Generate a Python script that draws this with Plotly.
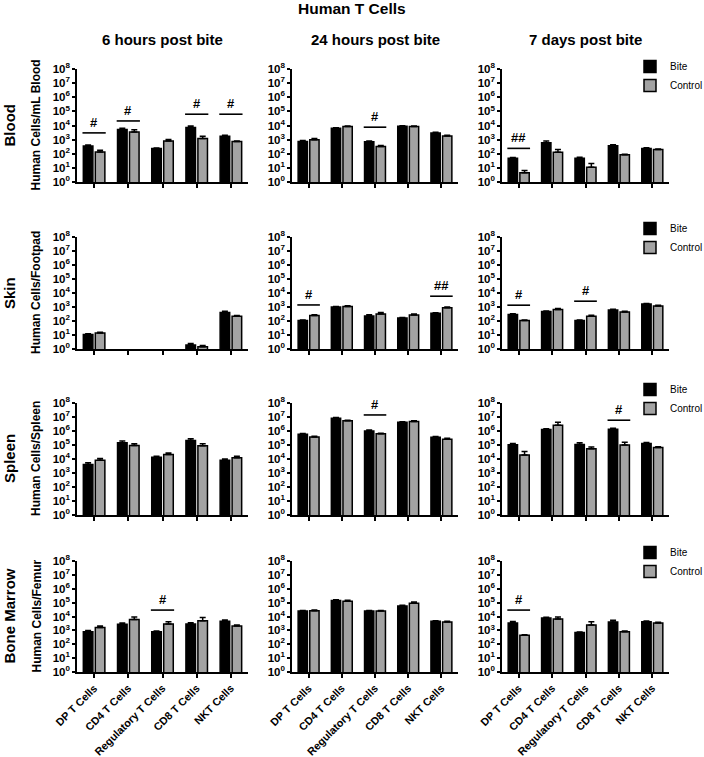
import math
import plotly.graph_objects as go
from plotly.subplots import make_subplots

categories = ["DP T Cells", "CD4 T Cells", "Regulatory T Cells", "CD8 T Cells", "NKT Cells"]
timepoints = ["6 hours post bite", "24 hours post bite", "7 days post bite"]
tissues = ["Blood", "Skin", "Spleen", "Bone Marrow"]
y_titles = ["Human Cells/mL Blood", "Human Cells/Footpad", "Human Cells/Spleen", "Human Cells/Femur"]
tick_vals = [1, 10, 100, 1e3, 1e4, 1e5, 1e6, 1e7, 1e8]
tick_text = ["10<sup>%d</sup>" % i for i in range(9)]

# ---- Blood ----
blood_6h_bite = [360, 5200, 234, 7200, 1750]
blood_6h_bite_err = [60, 1100, 20, 1900, 250]
blood_6h_ctrl = [135, 3500, 810, 1200, 730]
blood_6h_ctrl_err = [40, 1600, 200, 550, 80]
blood_24h_bite = [750, 6400, 710, 9000, 2950]
blood_24h_bite_err = [100, 500, 80, 600, 400]
blood_24h_ctrl = [1000, 8500, 325, 8500, 1800]
blood_24h_ctrl_err = [200, 900, 60, 700, 250]
blood_7d_bite = [49, 600, 49, 370, 240]
blood_7d_bite_err = [6, 200, 8, 60, 30]
blood_7d_ctrl = [4.6, 130, 11, 84, 200]
blood_7d_ctrl_err = [1.8, 70, 9, 10, 20]
# ---- Skin ----
skin_6h_bite = [11, None, None, 1.9, 410]
skin_6h_bite_err = [1.5, 0, 0, 0.6, 80]
skin_6h_ctrl = [14, None, None, 1.45, 215]
skin_6h_ctrl_err = [2, 0, 0, 0.3, 30]
skin_24h_bite = [107, 1000, 230, 165, 360]
skin_24h_bite_err = [10, 100, 50, 15, 30]
skin_24h_ctrl = [245, 1070, 320, 270, 870]
skin_24h_ctrl_err = [40, 150, 80, 50, 120]
skin_7d_bite = [290, 470, 107, 620, 1660]
skin_7d_bite_err = [40, 50, 10, 60, 150]
skin_7d_ctrl = [107, 660, 220, 445, 1200]
skin_7d_ctrl_err = [10, 120, 40, 50, 120]
# ---- Spleen ----
spleen_6h_bite = [4100, 142000, 13600, 210000, 8300]
spleen_6h_bite_err = [1200, 50000, 2000, 75000, 1500]
spleen_6h_ctrl = [8300, 92000, 21000, 87000, 12300]
spleen_6h_ctrl_err = [2700, 30000, 6000, 35000, 3500]
spleen_24h_bite = [590000, 8.1e6, 1.02e6, 4.2e6, 360000]
spleen_24h_bite_err = [80000, 1e6, 150000, 400000, 50000]
spleen_24h_ctrl = [380000, 5.3e6, 630000, 4.7e6, 260000]
spleen_24h_ctrl_err = [50000, 500000, 70000, 600000, 40000]
spleen_7d_bite = [103000, 1.26e6, 110000, 1.34e6, 128000]
spleen_7d_bite_err = [25000, 200000, 35000, 250000, 25000]
spleen_7d_ctrl = [19000, 2.6e6, 53000, 98000, 66000]
spleen_7d_ctrl_err = [16000, 1.7e6, 18000, 60000, 10000]
# ---- Bone marrow ----
bm_6h_bite = [810, 2750, 810, 2900, 4500]
bm_6h_bite_err = [150, 700, 100, 600, 1200]
bm_6h_ctrl = [1580, 6200, 2900, 5000, 2100]
bm_6h_ctrl_err = [500, 3000, 1200, 3500, 300]
bm_24h_bite = [24500, 144000, 24500, 56000, 4500]
bm_24h_bite_err = [3000, 15000, 3000, 8000, 500]
bm_24h_ctrl = [26000, 128000, 24500, 92000, 4000]
bm_24h_ctrl_err = [3000, 20000, 3000, 20000, 500]
bm_7d_bite = [3400, 7800, 690, 4000, 4250]
bm_7d_bite_err = [1000, 900, 80, 1300, 500]
bm_7d_ctrl = [450, 6600, 2450, 810, 3400]
bm_7d_ctrl_err = [40, 2500, 1800, 100, 400]

# significance marks: (tissue row, timepoint col, category index, label, bar height)
sig_marks = [
    (0, 0, 0, "#", 3000), (0, 0, 1, "#", 21000), (0, 0, 3, "#", 63000), (0, 0, 4, "#", 63000),
    (0, 1, 2, "#", 7600),
    (0, 2, 0, "##", 240),
    (1, 1, 0, "#", 1400), (1, 1, 4, "##", 5900),
    (1, 2, 0, "#", 1350), (1, 2, 2, "#", 2600),
    (2, 1, 2, "#", 1.4e7),
    (2, 2, 3, "#", 5.9e6),
    (3, 0, 2, "#", 29000),
    (3, 2, 0, "#", 29000),
]

panels = [
    [(blood_6h_bite, blood_6h_bite_err, blood_6h_ctrl, blood_6h_ctrl_err),
     (blood_24h_bite, blood_24h_bite_err, blood_24h_ctrl, blood_24h_ctrl_err),
     (blood_7d_bite, blood_7d_bite_err, blood_7d_ctrl, blood_7d_ctrl_err)],
    [(skin_6h_bite, skin_6h_bite_err, skin_6h_ctrl, skin_6h_ctrl_err),
     (skin_24h_bite, skin_24h_bite_err, skin_24h_ctrl, skin_24h_ctrl_err),
     (skin_7d_bite, skin_7d_bite_err, skin_7d_ctrl, skin_7d_ctrl_err)],
    [(spleen_6h_bite, spleen_6h_bite_err, spleen_6h_ctrl, spleen_6h_ctrl_err),
     (spleen_24h_bite, spleen_24h_bite_err, spleen_24h_ctrl, spleen_24h_ctrl_err),
     (spleen_7d_bite, spleen_7d_bite_err, spleen_7d_ctrl, spleen_7d_ctrl_err)],
    [(bm_6h_bite, bm_6h_bite_err, bm_6h_ctrl, bm_6h_ctrl_err),
     (bm_24h_bite, bm_24h_bite_err, bm_24h_ctrl, bm_24h_ctrl_err),
     (bm_7d_bite, bm_7d_bite_err, bm_7d_ctrl, bm_7d_ctrl_err)],
]

W, H = 704, 757
FONT = "Liberation Sans, Arial, sans-serif"
BITE_COLOR = "#000000"
CTRL_COLOR = "#a3a3a3"

col_px = [(77, 248), (292, 458), (502, 669)]
row_px = [(69, 182), (237, 349), (403, 515), (561, 672)]
legend_top_px = [52, 214, 375, 538]

def px_x(p):
    return p / W

def px_y(p):
    return 1 - p / H

fig = make_subplots(rows=4, cols=3)
xpos = list(range(len(categories)))

for r in range(4):
    for c in range(3):
        bite, bite_err, ctrl, ctrl_err = panels[r][c]
        show = (c == 2)
        leg = "legend" if r == 0 else "legend%d" % (r + 1)
        zeros = [0] * len(categories)
        fig.add_trace(go.Bar(
            x=xpos, y=bite, name="Bite", offsetgroup="bite",
            marker=dict(color=BITE_COLOR, line=dict(color="black", width=1.5)),
            error_y=dict(type="data", symmetric=False, array=bite_err, arrayminus=zeros,
                         color="black", thickness=1.5, width=3),
            showlegend=show, legend=leg,
        ), row=r + 1, col=c + 1)
        fig.add_trace(go.Bar(
            x=xpos, y=ctrl, name="Control", offsetgroup="ctrl",
            marker=dict(color=CTRL_COLOR, line=dict(color="black", width=1.5)),
            error_y=dict(type="data", symmetric=False, array=ctrl_err, arrayminus=zeros,
                         color="black", thickness=1.5, width=3),
            showlegend=show, legend=leg,
        ), row=r + 1, col=c + 1)
        fig.update_xaxes(
            domain=[px_x(col_px[c][0]), px_x(col_px[c][1])], automargin=False,
            range=[-0.5, 4.5], tickvals=xpos, ticktext=categories,
            showticklabels=(r == 3), tickangle=-45,
            tickfont=dict(family=FONT, size=10.8, color="black", weight="bold"),
            ticks="outside", ticklen=4, tickwidth=1.5, tickcolor="black",
            showline=True, linewidth=1.5, linecolor="black",
            showgrid=False, zeroline=False, row=r + 1, col=c + 1)
        fig.update_yaxes(
            domain=[px_y(row_px[r][1]), px_y(row_px[r][0])], automargin=False,
            type="log", range=[0, 8], tickvals=tick_vals, ticktext=tick_text,
            tickfont=dict(family=FONT, size=11.5, color="black", weight="bold"),
            ticks="outside", ticklen=3, tickwidth=1.5, tickcolor="black",
            showline=True, linewidth=1.5, linecolor="black",
            showgrid=False, zeroline=False, row=r + 1, col=c + 1)

annotations = []
for (r, c, i, label, h) in sig_marks:
    fig.add_trace(go.Scatter(
        x=[i - 0.34, i + 0.34], y=[h, h], mode="lines",
        line=dict(color="black", width=1.6), showlegend=False, hoverinfo="skip",
    ), row=r + 1, col=c + 1)
    k = r * 3 + c + 1
    annotations.append(dict(
        x=i, y=math.log10(h), xref="x" if k == 1 else "x%d" % k,
        yref="y" if k == 1 else "y%d" % k, text=label, showarrow=False,
        yanchor="bottom", yshift=1,
        font=dict(family=FONT, size=13, color="black", weight="bold")))

# titles
annotations.append(dict(x=px_x(352), y=px_y(8), xref="paper", yref="paper", text="Human T Cells",
                        showarrow=False, xanchor="center", yanchor="middle",
                        font=dict(family=FONT, size=15.5, color="black", weight="bold")))
for c, t in enumerate(timepoints):
    annotations.append(dict(x=px_x((col_px[c][0] + col_px[c][1]) / 2), y=px_y(39), xref="paper",
                            yref="paper", text=t, showarrow=False, xanchor="center", yanchor="middle",
                            font=dict(family=FONT, size=15, color="black", weight="bold")))
for r in range(4):
    yc = px_y((row_px[r][0] + row_px[r][1]) / 2)
    annotations.append(dict(x=px_x(9), y=yc, xref="paper", yref="paper", text=tissues[r],
                            showarrow=False, textangle=-90, xanchor="center", yanchor="middle",
                            font=dict(family=FONT, size=15, color="black", weight="bold")))
    annotations.append(dict(x=px_x(36), y=yc, xref="paper", yref="paper", text=y_titles[r],
                            showarrow=False, textangle=-90, xanchor="center", yanchor="middle",
                            font=dict(family=FONT, size=12, color="black", weight="bold")))

legend_style = dict(xanchor="left", yanchor="top", xref="container", yref="container",
                    bgcolor="rgba(0,0,0,0)", font=dict(family=FONT, size=10, color="black"),
                    tracegroupgap=0)
layout_legends = {}
for r in range(4):
    key = "legend" if r == 0 else "legend%d" % (r + 1)
    layout_legends[key] = dict(x=px_x(630), y=px_y(legend_top_px[r]), **legend_style)

fig.update_layout(
    width=W, height=H, margin=dict(l=0, r=0, t=0, b=0, autoexpand=False),
    paper_bgcolor="white", plot_bgcolor="white",
    barmode="group", bargap=0.3, bargroupgap=0.2,
    annotations=annotations, font=dict(family=FONT, color="black"),
    **layout_legends,
)

fig.write_html(
    "out.html",
    config={"displayModeBar": False},
    post_script="document.body.style.margin='0';document.body.style.overflow='hidden';",
)
